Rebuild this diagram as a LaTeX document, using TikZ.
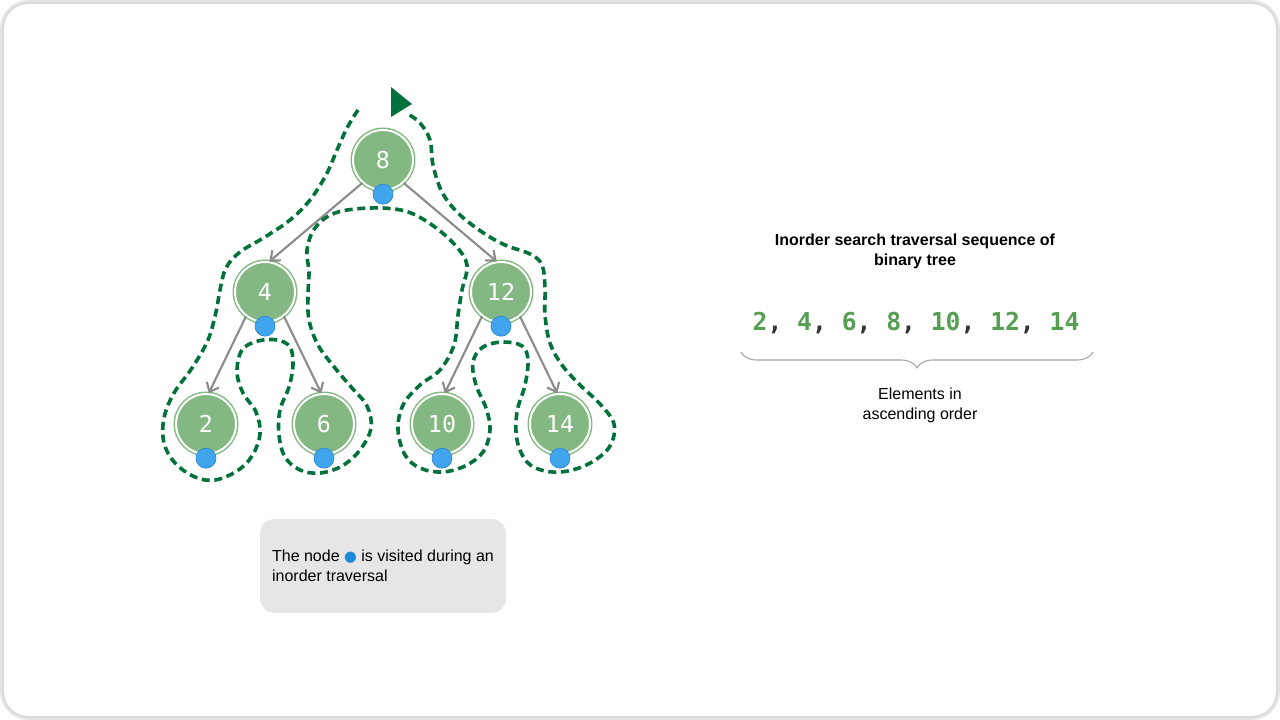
\documentclass[tikz,border=0pt]{standalone}
\usepackage{fontspec}
\setmainfont{Liberation Sans}
\setmonofont{DejaVu Sans Mono}
\newfontfamily\symfont{DejaVu Sans}
\usepackage{xcolor}
\usepackage{tikz}
\usetikzlibrary{arrows.meta,decorations.pathreplacing}
\definecolor{nodegreen}{HTML}{84B882}
\definecolor{walkgreen}{HTML}{00713A}
\definecolor{dotblue}{HTML}{41A5EE}
\definecolor{dotedge}{HTML}{2A86D0}
\definecolor{legendblue}{HTML}{1E88D8}
\definecolor{edgegray}{HTML}{8C8C8C}
\definecolor{seqgreen}{HTML}{559E52}
\definecolor{commagray}{HTML}{333333}
\definecolor{legendgray}{HTML}{E6E6E6}

\begin{document}
\begin{tikzpicture}[x=0.75pt, y=-0.75pt,
    treenode/.style={circle, fill=nodegreen, draw=nodegreen, line width=1.1pt,
      double=white, double distance=1.5pt, minimum size=45pt, inner sep=0pt,
      text=white, font=\ttfamily\fontsize{17.5}{20}\selectfont},
    visitdot/.style={circle, fill=dotblue, draw=dotedge, line width=0.5pt,
      minimum size=15pt, inner sep=0pt},
    childarrow/.style={draw=edgegray, line width=1.6pt,
      -{Straight Barb[length=6pt, width=10pt, line width=1.6pt]}},
    traversal/.style={draw=walkgreen, line width=2.7pt, dash pattern=on 6pt off 3.5pt},
    plaintext/.style={font=\fontsize{12}{15}\selectfont, align=center}]
    \useasboundingbox (0,0) rectangle (1280,720);

    % Frame
    \draw[black!10, line width=3pt, rounded corners=20pt] (2,2) rectangle (1278,718);
    \draw[black!16, line width=0.8pt, rounded corners=19pt] (3,3) rectangle (1277,717);

    % Tree
    \node[treenode] (n8) at (383,160) {8};
    \node[treenode] (n4) at (265,292) {4};
    \node[treenode] (n12) at (501,292) {12};
    \node[treenode] (n2) at (206,424) {2};
    \node[treenode] (n6) at (324,424) {6};
    \node[treenode] (n10) at (442,424) {10};
    \node[treenode] (n14) at (560,424) {14};

    % Links
    \draw[childarrow] (n8.228) -- (n4.82);
    \draw[childarrow] (n8.312) -- (n12.98);
    \draw[childarrow] (n4.232) -- (n2.85);
    \draw[childarrow] (n4.308) -- (n6.95);
    \draw[childarrow] (n12.232) -- (n10.85);
    \draw[childarrow] (n12.308) -- (n14.95);

    % Visit points
    \foreach \n in {8,4,12,2,6,10,14}
      \node[visitdot] (v\n) at ([yshift=-2.6pt]n\n.south) {};

    % Inorder walk around the tree
    \draw[traversal] plot[smooth, tension=0.6] coordinates {
      (358,110) (347,128) (337,150) (326,175) (310,200) (290,220) (265,237)
      (240,252) (226,268) (220,290) (216,312) (208,340) (192,368) (174,393)
      (164,418) (164,443) (175,463) (195,477) (215,480) (237,471) (252,456)
      (260,434) (256,412) (243,393) (237,372) (242,350) (258,341) (277,340)
      (290,347) (293,365) (289,387) (280,410) (279,435) (285,457) (300,470)
      (320,473) (342,466) (360,450) (371,428) (367,406) (352,388) (335,368)
      (318,345) (309,320) (308,295) (309,272) (307,250) (315,228) (335,213)
      (370,208) (405,211) (432,225) (455,245) (467,265) (462,290) (458,315)
      (454,345) (440,370) (420,385) (403,405) (398,430) (405,455) (420,468)
      (442,472) (465,466) (483,452) (490,430) (486,408) (476,385) (473,362)
      (483,347) (503,342) (522,346) (528,360) (525,385) (517,412) (517,440)
      (527,462) (545,471) (568,471) (592,462) (610,446) (614,424) (600,404)
      (580,385) (562,365) (550,343) (545,315) (545,288) (542,265) (530,254)
      (505,245) (482,232) (458,213) (442,192) (433,165) (430,140) (420,123)
      (408,114)};
    \fill[walkgreen] (391,87) -- (412,104) -- (391,117) -- cycle;

    % Legend
    \node[fill=legendgray, rounded corners=11pt, minimum width=184.5pt,
      minimum height=70.5pt, align=left, font=\fontsize{12}{15}\selectfont]
      (legend) at (383,566)
      {The node {\symfont\fontsize{11}{11}\selectfont\color{legendblue}●} is visited during an\\inorder traversal};

    % Sequence
    \node[plaintext, font=\bfseries\fontsize{12}{15}\selectfont] (title) at (915,251)
      {Inorder search traversal sequence of\\binary tree};
    \node[text=commagray, font=\ttfamily\bfseries\fontsize{18.5}{20}\selectfont] (seq) at (916,323)
      {\textcolor{seqgreen}{2}, \textcolor{seqgreen}{4}, \textcolor{seqgreen}{6}, \textcolor{seqgreen}{8}, \textcolor{seqgreen}{10}, \textcolor{seqgreen}{12}, \textcolor{seqgreen}{14}};
    \coordinate (braceL) at (741,352);
    \coordinate (braceR) at (1093,352);
    \draw[edgegray!80, line width=0.8pt, decorate,
      decoration={brace, mirror, amplitude=12pt}] (braceL) -- (braceR);
    \node[plaintext] (caption) at (920,405) {Elements in\\ascending order};
\end{tikzpicture}
\end{document}
